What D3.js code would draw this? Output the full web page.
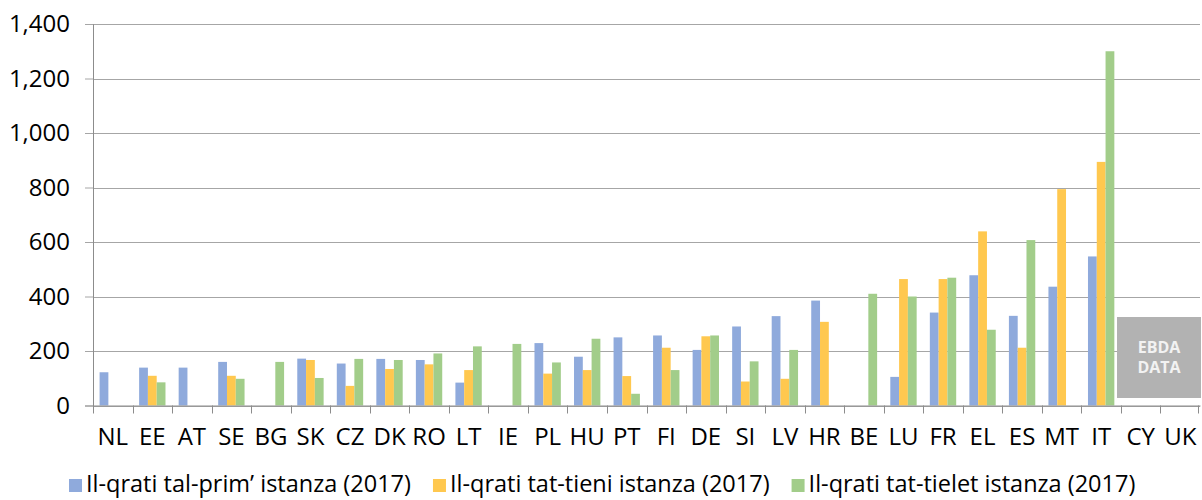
<!DOCTYPE html>
<html>
<head>
<meta charset="utf-8">
<script src="https://cdn.jsdelivr.net/npm/d3@7"></script>
<style>
  body { margin: 0; background: #fff; }
  svg { display: block; font-family: "Open Sans", "Noto Sans", sans-serif; }
</style>
</head>
<body>
<div id="chart"></div>
<script>
// data
var categories = ["NL", "EE", "AT", "SE", "BG", "SK", "CZ", "DK", "RO", "LT", "IE", "PL", "HU", "PT",
    "FI", "DE", "SI", "LV", "HR", "BE", "LU", "FR", "EL", "ES", "MT", "IT", "CY", "UK"];
var seriesNames = ["Il-qrati tal-prim\u2019 istanza (2017)", "Il-qrati tat-tieni istanza (2017)", "Il-qrati tat-tielet istanza (2017)"];
var firstInstance = [122, 139, 139, 160, null, 172, 154, 171, 167, 84, null, 229, 179, 250,
    257, 204, 290, 328, 385, null, 105, 341, 478, 329, 436, 547, null, null];
var secondInstance = [null, 109, null, 109, null, 167, 72, 134, 151, 130, null, 117, 130, 108,
    212, 254, 88, 98, 307, null, 464, 464, 639, 212, 794, 894, null, null];
var thirdInstance = [null, 85, null, 98, 160, 101, 171, 167, 191, 217, 226, 158, 245, 43,
    130, 257, 162, 204, null, 410, 400, 469, 278, 607, null, 1300, null, null];
var yTicks = [0, 200, 400, 600, 800, 1000, 1200, 1400];
var colors = ["#8faadc", "#ffc84f", "#a2cd8a"];

function drawChart() {
    var width = 1202, height = 500;
    var plotLeft = 93, plotRight = 1200, plotTop = 24, plotBottom = 405.5;

    var svg = d3.select("#chart").append("svg").attr("width", width).attr("height", height);

    var x = d3.scaleBand().domain(categories).range([plotLeft, plotRight]).padding(0);
    var x1 = d3.scaleBand().domain([0, 1, 2]).range([0, x.bandwidth()]).paddingInner(0).paddingOuter(0.75);
    var y = d3.scaleLinear().domain([0, 1400]).range([plotBottom, plotTop]);

    // gridlines
    svg.append("g")
        .selectAll("line").data(yTicks).enter().append("line")
        .attr("x1", plotLeft).attr("x2", plotRight)
        .attr("y1", d => Math.round(y(d)) + 0.5).attr("y2", d => Math.round(y(d)) + 0.5)
        .attr("stroke", "#a6a6a6").attr("stroke-width", 1.2);

    // y axis
    var yAxis = g => g
        .attr("transform", `translate(${plotLeft},0)`)
        .call(d3.axisLeft(y).tickValues(yTicks).tickFormat(d3.format(",")).tickSize(8).tickPadding(15))
        .call(g => g.select(".domain").attr("stroke", "#8c8c8c"))
        .call(g => g.selectAll(".tick line").attr("stroke", "#a6a6a6"))
        .call(g => g.selectAll("text").attr("font-size", 24).attr("fill", "#000").attr("font-family", "Open Sans"));
    svg.append("g").call(yAxis);

    // bars
    var seriesData = [firstInstance, secondInstance, thirdInstance];
    var groups = svg.append("g").selectAll("g").data(categories).enter().append("g")
        .attr("transform", d => `translate(${x(d)},0)`);
    groups.selectAll("rect")
        .data((d, i) => seriesData.map((s, k) => ({ k: k, v: s[i] })).filter(e => e.v != null))
        .enter().append("rect")
        .attr("x", d => x1(d.k))
        .attr("width", x1.bandwidth())
        .attr("y", d => y(d.v))
        .attr("height", d => y(0) - y(d.v))
        .attr("fill", d => colors[d.k]);

    // x axis
    var xAxis = g => g
        .attr("transform", `translate(0,${plotBottom})`)
        .call(d3.axisBottom(x).tickSize(0).tickPadding(22))
        .call(g => g.select(".domain").attr("stroke", "#8c8c8c"))
        .call(g => g.selectAll("text").attr("font-size", 24).attr("fill", "#000").attr("font-family", "Open Sans"));
    svg.append("g").call(xAxis);

    // category separators
    svg.append("g").selectAll("line").data(categories.concat(["end"])).enter().append("line")
        .attr("x1", d => d === "end" ? plotRight - 1.5 : Math.round(x(d)) + 0.5)
        .attr("x2", d => d === "end" ? plotRight - 1.5 : Math.round(x(d)) + 0.5)
        .attr("y1", plotBottom).attr("y2", plotBottom + 8)
        .attr("stroke", "#8c8c8c");

    // EBDA DATA stamp
    var stamp = svg.append("g").attr("transform", "translate(1117,317)");
    stamp.append("rect").attr("width", 84).attr("height", 81).attr("fill", "#b2b2b2");
    stamp.append("text").attr("x", 42).attr("y", 36).attr("text-anchor", "middle")
        .attr("font-size", 16).attr("font-weight", "bold").attr("fill", "#f2f2f2").text("EBDA");
    stamp.append("text").attr("x", 42).attr("y", 56).attr("text-anchor", "middle")
        .attr("font-size", 16).attr("font-weight", "bold").attr("fill", "#f2f2f2").text("DATA");

    // legend
    var legend = svg.append("g").attr("transform", "translate(0,492)");
    var lx = 69;
    seriesNames.forEach(function (name, k) {
        legend.append("rect").attr("x", lx).attr("y", -13).attr("width", 13).attr("height", 13).attr("fill", colors[k]);
        var t = legend.append("text").attr("x", lx + 17).attr("y", 0)
            .attr("font-size", 23.5).attr("fill", "#000").text(name);
        lx += 17 + t.node().getComputedTextLength() + 22;
    });
}
drawChart();
</script>
</body>
</html>
